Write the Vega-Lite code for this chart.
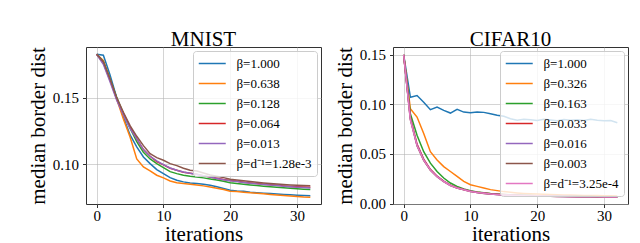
{
  "$schema": "https://vega.github.io/schema/vega-lite/v6.json",
  "padding": {"left": 26, "top": 28, "right": 0, "bottom": 0},
  "background": "white",
  "config": {
    "font": "Liberation Serif",
    "view": {"stroke": "#333333", "strokeWidth": 1},
    "title": {"font": "Liberation Serif", "fontSize": 21, "fontWeight": "normal", "offset": -3, "color": "black"},
    "axis": {
      "grid": true, "gridColor": "#b0b0b0", "gridOpacity": 0.55, "gridWidth": 1,
      "domain": false, "tickColor": "#333333", "tickSize": 3.5, "tickWidth": 1,
      "labelFont": "Liberation Serif", "labelFontSize": 15, "labelColor": "black",
      "titleFont": "Liberation Serif", "titleFontSize": 21, "titleFontWeight": "normal", "titleColor": "black"
    },
    "legend": {
      "orient": "top-right", "offset": 4, "padding": 5,
      "strokeColor": "#cccccc", "fillColor": "rgba(255,255,255,0.8)", "cornerRadius": 3,
      "symbolType": "M-1,0H3", "symbolSize": 182, "symbolStrokeWidth": 1.5,
      "labelFont": "Liberation Serif", "labelFontSize": 13, "labelColor": "black",
      "rowPadding": 5, "labelOffset": 23.5
    }
  },
  "datasets": {
    "mnist": [
      {"x":0,"a":0.1825,"b":0.1825,"c":0.1825,"d":0.1825,"e":0.1825,"f":0.1825},
      {"x":1,"a":0.1818,"b":0.178,"c":0.177,"d":0.176,"e":0.175,"f":0.177},
      {"x":2,"a":0.167,"b":0.164,"c":0.164,"d":0.163,"e":0.162,"f":0.164},
      {"x":3,"a":0.150,"b":0.149,"c":0.150,"d":0.149,"e":0.148,"f":0.150},
      {"x":4,"a":0.1355,"b":0.134,"c":0.138,"d":0.138,"e":0.137,"f":0.139},
      {"x":5,"a":0.122,"b":0.1205,"c":0.127,"d":0.128,"e":0.127,"f":0.129},
      {"x":6,"a":0.113,"b":0.104,"c":0.117,"d":0.119,"e":0.119,"f":0.121},
      {"x":7,"a":0.1055,"b":0.098,"c":0.109,"d":0.111,"e":0.111,"f":0.114},
      {"x":8,"a":0.1005,"b":0.095,"c":0.104,"d":0.106,"e":0.106,"f":0.108},
      {"x":9,"a":0.096,"b":0.0918,"c":0.1005,"d":0.102,"e":0.1025,"f":0.105},
      {"x":10,"a":0.093,"b":0.0898,"c":0.0975,"d":0.0995,"e":0.0998,"f":0.103},
      {"x":11,"a":0.090,"b":0.0875,"c":0.0945,"d":0.097,"e":0.0972,"f":0.1005},
      {"x":12,"a":0.088,"b":0.0862,"c":0.093,"d":0.0955,"e":0.0955,"f":0.099},
      {"x":13,"a":0.0868,"b":0.0855,"c":0.0918,"d":0.094,"e":0.0942,"f":0.097},
      {"x":14,"a":0.086,"b":0.085,"c":0.091,"d":0.0932,"e":0.0932,"f":0.0955},
      {"x":15,"a":0.0855,"b":0.0845,"c":0.0905,"d":0.0925,"e":0.0924,"f":0.095},
      {"x":16,"a":0.085,"b":0.0838,"c":0.0898,"d":0.0915,"e":0.0914,"f":0.0935},
      {"x":17,"a":0.0843,"b":0.083,"c":0.089,"d":0.0905,"e":0.0904,"f":0.092},
      {"x":18,"a":0.0832,"b":0.082,"c":0.0882,"d":0.0895,"e":0.0894,"f":0.091},
      {"x":19,"a":0.0818,"b":0.081,"c":0.0872,"d":0.0885,"e":0.0884,"f":0.090},
      {"x":20,"a":0.0805,"b":0.0798,"c":0.0862,"d":0.0878,"e":0.0876,"f":0.0888},
      {"x":21,"a":0.0800,"b":0.0795,"c":0.0855,"d":0.0872,"e":0.0870,"f":0.0882},
      {"x":22,"a":0.0797,"b":0.079,"c":0.0850,"d":0.0866,"e":0.0864,"f":0.0876},
      {"x":23,"a":0.0790,"b":0.0786,"c":0.0845,"d":0.0860,"e":0.0858,"f":0.0870},
      {"x":24,"a":0.0786,"b":0.0782,"c":0.0840,"d":0.0855,"e":0.0853,"f":0.0865},
      {"x":25,"a":0.0783,"b":0.0778,"c":0.0836,"d":0.0850,"e":0.0848,"f":0.0860},
      {"x":26,"a":0.0780,"b":0.0774,"c":0.0832,"d":0.0846,"e":0.0844,"f":0.0856},
      {"x":27,"a":0.0777,"b":0.077,"c":0.0828,"d":0.0842,"e":0.0840,"f":0.0852},
      {"x":28,"a":0.0774,"b":0.0766,"c":0.0824,"d":0.0838,"e":0.0836,"f":0.0848},
      {"x":29,"a":0.0771,"b":0.0762,"c":0.0820,"d":0.0834,"e":0.0832,"f":0.0845},
      {"x":30,"a":0.0768,"b":0.0758,"c":0.0816,"d":0.0831,"e":0.0828,"f":0.0842},
      {"x":31,"a":0.0766,"b":0.0754,"c":0.0813,"d":0.0829,"e":0.0825,"f":0.0840},
      {"x":32,"a":0.0764,"b":0.0752,"c":0.0810,"d":0.0827,"e":0.0822,"f":0.0838}
    ],
    "cifar": [
      {"x":0,"a":0.150,"b":0.150,"c":0.150,"d":0.150,"e":0.150,"f":0.150,"g":0.150},
      {"x":1,"a":0.1073,"b":0.0957,"c":0.0907,"d":0.0870,"e":0.0857,"f":0.0850,"g":0.0845},
      {"x":2,"a":0.109,"b":0.0873,"c":0.069,"d":0.0600,"e":0.0590,"f":0.0582,"g":0.0585},
      {"x":3,"a":0.1023,"b":0.0707,"c":0.0523,"d":0.0448,"e":0.0440,"f":0.0435,"g":0.0437},
      {"x":4,"a":0.0947,"b":0.0523,"c":0.0407,"d":0.0345,"e":0.0340,"f":0.0336,"g":0.0338},
      {"x":5,"a":0.0973,"b":0.044,"c":0.0323,"d":0.0276,"e":0.0273,"f":0.0270,"g":0.0271},
      {"x":6,"a":0.094,"b":0.0373,"c":0.0257,"d":0.0226,"e":0.0223,"f":0.0221,"g":0.0222},
      {"x":7,"a":0.0913,"b":0.0323,"c":0.0207,"d":0.0185,"e":0.0183,"f":0.0181,"g":0.0182},
      {"x":8,"a":0.095,"b":0.0273,"c":0.0173,"d":0.0159,"e":0.0157,"f":0.0155,"g":0.0156},
      {"x":9,"a":0.0923,"b":0.0223,"c":0.0147,"d":0.0142,"e":0.0140,"f":0.0138,"g":0.0139},
      {"x":10,"a":0.0917,"b":0.019,"c":0.013,"d":0.0125,"e":0.0123,"f":0.0121,"g":0.0122},
      {"x":11,"a":0.0923,"b":0.0173,"c":0.0117,"d":0.0114,"e":0.0112,"f":0.0110,"g":0.0111},
      {"x":12,"a":0.092,"b":0.0157,"c":0.0108,"d":0.0106,"e":0.0104,"f":0.0102,"g":0.0103},
      {"x":13,"a":0.0907,"b":0.014,"c":0.0101,"d":0.0099,"e":0.0097,"f":0.0095,"g":0.0096},
      {"x":14,"a":0.089,"b":0.013,"c":0.0096,"d":0.0094,"e":0.0092,"f":0.0090,"g":0.0091},
      {"x":15,"a":0.0880,"b":0.012,"c":0.0092,"d":0.0090,"e":0.0088,"f":0.0087,"g":0.0087},
      {"x":16,"a":0.0855,"b":0.0113,"c":0.0089,"d":0.0087,"e":0.0085,"f":0.0084,"g":0.0084},
      {"x":17,"a":0.0840,"b":0.0107,"c":0.0086,"d":0.0084,"e":0.0082,"f":0.0081,"g":0.0081},
      {"x":18,"a":0.0850,"b":0.0102,"c":0.0083,"d":0.0082,"e":0.0080,"f":0.0079,"g":0.0079},
      {"x":19,"a":0.0845,"b":0.0098,"c":0.0081,"d":0.0080,"e":0.0078,"f":0.0077,"g":0.0077},
      {"x":20,"a":0.0838,"b":0.0095,"c":0.0079,"d":0.0078,"e":0.0076,"f":0.0075,"g":0.0075},
      {"x":21,"a":0.0850,"b":0.0093,"c":0.0077,"d":0.0077,"e":0.0075,"f":0.0074,"g":0.0074},
      {"x":22,"a":0.0842,"b":0.0091,"c":0.0076,"d":0.0075,"e":0.0073,"f":0.0072,"g":0.0072},
      {"x":23,"a":0.0835,"b":0.0089,"c":0.0075,"d":0.0074,"e":0.0072,"f":0.0071,"g":0.0071},
      {"x":24,"a":0.0848,"b":0.0087,"c":0.0074,"d":0.0073,"e":0.0071,"f":0.0070,"g":0.0070},
      {"x":25,"a":0.0840,"b":0.0085,"c":0.0073,"d":0.0072,"e":0.0070,"f":0.0069,"g":0.0069},
      {"x":26,"a":0.0845,"b":0.0083,"c":0.0072,"d":0.0071,"e":0.0069,"f":0.0068,"g":0.0068},
      {"x":27,"a":0.0838,"b":0.0082,"c":0.0071,"d":0.0070,"e":0.0068,"f":0.0068,"g":0.0068},
      {"x":28,"a":0.0850,"b":0.0081,"c":0.0070,"d":0.0070,"e":0.0068,"f":0.0067,"g":0.0067},
      {"x":29,"a":0.0840,"b":0.0080,"c":0.0069,"d":0.0069,"e":0.0067,"f":0.0067,"g":0.0067},
      {"x":30,"a":0.0835,"b":0.0079,"c":0.0069,"d":0.0069,"e":0.0067,"f":0.0066,"g":0.0066},
      {"x":31,"a":0.0838,"b":0.0078,"c":0.0068,"d":0.0068,"e":0.0066,"f":0.0066,"g":0.0066},
      {"x":32,"a":0.0815,"b":0.0077,"c":0.0068,"d":0.0068,"e":0.0066,"f":0.0066,"g":0.0066}
    ]
  },
  "spacing": 11,
  "resolve": {"scale": {"color": "independent", "x": "independent", "y": "independent"}, "legend": {"color": "independent"}},
  "hconcat": [
    {
      "title": "MNIST",
      "width": 235, "height": 157,
      "data": {"name": "mnist"},
      "transform": [
        {"fold": ["a","b","c","d","e","f"], "as": ["key","value"]},
        {"lookup": "key", "from": {"data": {"values": [
          {"k":"a","label":"β=1.000"},{"k":"b","label":"β=0.638"},{"k":"c","label":"β=0.128"},
          {"k":"d","label":"β=0.064"},{"k":"e","label":"β=0.013"},{"k":"f","label":"β=d⁻¹=1.28e-3"}
        ]}, "key": "k", "fields": ["label"]}}
      ],
      "mark": {"type": "line", "strokeWidth": 1.5, "clip": true},
      "encoding": {
        "x": {"field": "x", "type": "quantitative", "title": "iterations",
              "scale": {"domain": [-1.6, 33.6], "nice": false, "zero": false},
              "axis": {"values": [0,10,20,30], "labelPadding": 1, "titlePadding": 0}},
        "y": {"field": "value", "type": "quantitative", "title": "median border dist",
              "scale": {"domain": [0.0702, 0.188], "nice": false, "zero": false},
              "axis": {"values": [0.10, 0.15], "format": ".2f", "labelPadding": 4, "titlePadding": 4}},
        "color": {"field": "label", "type": "nominal",
                  "scale": {"domain": ["β=1.000","β=0.638","β=0.128","β=0.064","β=0.013","β=d⁻¹=1.28e-3"],
                            "range": ["#1f77b4","#ff7f0e","#2ca02c","#d62728","#9467bd","#8c564b"]},
                  "legend": {"title": null, "labelFont": "Liberation Serif", "labelFontSize": 13}}
      }
    },
    {
      "title": "CIFAR10",
      "width": 235, "height": 157,
      "data": {"name": "cifar"},
      "transform": [
        {"fold": ["a","b","c","d","e","f","g"], "as": ["key","value"]},
        {"lookup": "key", "from": {"data": {"values": [
          {"k":"a","label":"β=1.000"},{"k":"b","label":"β=0.326"},{"k":"c","label":"β=0.163"},
          {"k":"d","label":"β=0.033"},{"k":"e","label":"β=0.016"},{"k":"f","label":"β=0.003"},
          {"k":"g","label":"β=d⁻¹=3.25e-4"}
        ]}, "key": "k", "fields": ["label"]}}
      ],
      "mark": {"type": "line", "strokeWidth": 1.5, "clip": true},
      "encoding": {
        "x": {"field": "x", "type": "quantitative", "title": "iterations",
              "scale": {"domain": [-1.6, 33.6], "nice": false, "zero": false},
              "axis": {"values": [0,10,20,30], "labelPadding": 1, "titlePadding": 0}},
        "y": {"field": "value", "type": "quantitative", "title": "median border dist",
              "scale": {"domain": [-0.0005, 0.158], "nice": false, "zero": false},
              "axis": {"values": [0, 0.05, 0.10, 0.15], "format": ".2f", "labelPadding": 4, "titlePadding": 4}},
        "color": {"field": "label", "type": "nominal",
                  "scale": {"domain": ["β=1.000","β=0.326","β=0.163","β=0.033","β=0.016","β=0.003","β=d⁻¹=3.25e-4"],
                            "range": ["#1f77b4","#ff7f0e","#2ca02c","#d62728","#9467bd","#8c564b","#e377c2"]},
                  "legend": {"title": null, "labelFont": "Liberation Serif", "labelFontSize": 13}}
      }
    }
  ]
}
